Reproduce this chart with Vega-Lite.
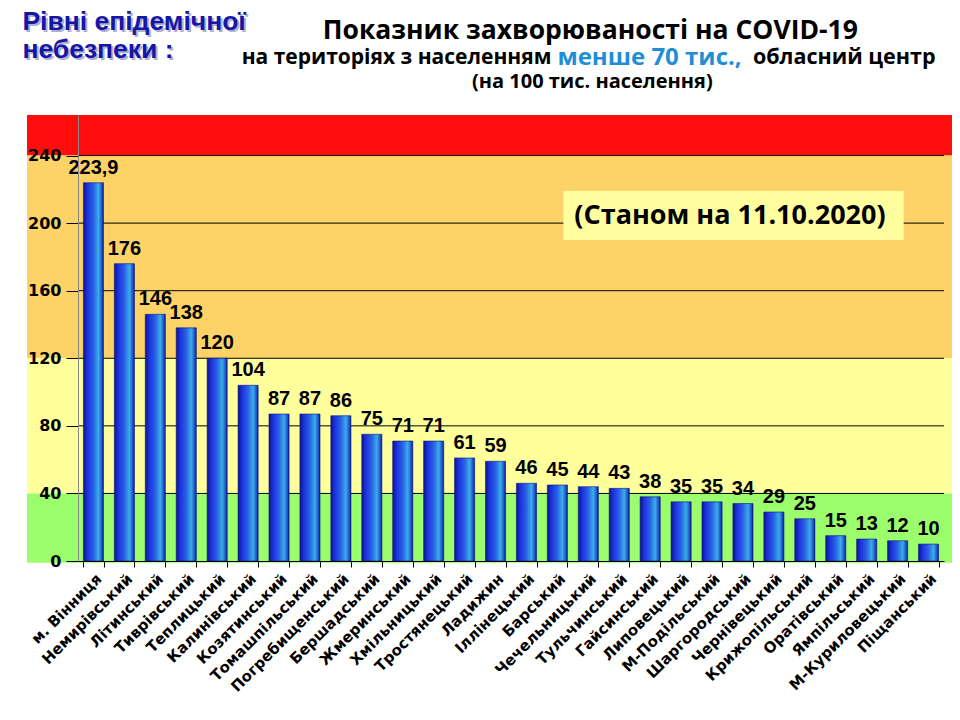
{
  "$schema": "https://vega.github.io/schema/vega-lite/v6.json",
  "width": 925,
  "height": 446,
  "autosize": {"type": "none"},
  "padding": {"left": 27, "top": 115, "right": 8, "bottom": 159},
  "background": "white",
  "config": {
    "view": {"stroke": null},
    "locale": {"number": {"decimal": ",", "thousands": " ", "grouping": [3], "currency": ["", ""]}}
  },
  "datasets": {
    "rates": [
      {"district": "м. Вінниця", "value": 223.9},
      {"district": "Немирівський", "value": 176},
      {"district": "Літинський", "value": 146},
      {"district": "Тиврівський", "value": 138},
      {"district": "Теплицький", "value": 120},
      {"district": "Калинівський", "value": 104},
      {"district": "Козятинський", "value": 87},
      {"district": "Томашпільський", "value": 87},
      {"district": "Погребищенський", "value": 86},
      {"district": "Бершадський", "value": 75},
      {"district": "Жмеринський", "value": 71},
      {"district": "Хмільницький", "value": 71},
      {"district": "Тростянецький", "value": 61},
      {"district": "Ладижин", "value": 59},
      {"district": "Іллінецький", "value": 46},
      {"district": "Барський", "value": 45},
      {"district": "Чечельницький", "value": 44},
      {"district": "Тульчинський", "value": 43},
      {"district": "Гайсинський", "value": 38},
      {"district": "Липовецький", "value": 35},
      {"district": "М-Подільський", "value": 35},
      {"district": "Шаргородський", "value": 34},
      {"district": "Чернівецький", "value": 29},
      {"district": "Крижопільський", "value": 25},
      {"district": "Оратівський", "value": 15},
      {"district": "Ямпільський", "value": 13},
      {"district": "М-Куриловецький", "value": 12},
      {"district": "Піщанський", "value": 10}
    ],
    "zones": [
      {"zone": "red", "lo": 240, "hi": 264},
      {"zone": "orange", "lo": 120, "hi": 240},
      {"zone": "yellow", "lo": 40, "hi": 120},
      {"zone": "green", "lo": -1, "hi": 40}
    ],
    "grid": [{"v": 40}, {"v": 80}, {"v": 120}, {"v": 160}, {"v": 200}, {"v": 240}]
  },
  "layer": [
    {
      "data": {"name": "zones"},
      "mark": {"type": "rect"},
      "encoding": {
        "y": {
          "field": "lo",
          "type": "quantitative",
          "scale": {"domain": [0, 264], "nice": false, "zero": true},
          "axis": {
            "title": null,
            "zindex": 1,
            "values": [0, 40, 80, 120, 160, 200, 240],
            "offset": -51,
            "grid": false,
            "domainColor": "#888888",
            "tickColor": "black",
            "tickSize": 12,
            "labelPadding": 5,
            "labelFont": "DejaVu Sans",
            "labelFontWeight": "bold",
            "labelFontSize": 16,
            "labelColor": "black"
          }
        },
        "y2": {"field": "hi"},
        "color": {
          "field": "zone",
          "type": "nominal",
          "scale": {"domain": ["red", "orange", "yellow", "green"], "range": ["#ff0d0d", "#fdd267", "#ffff9c", "#9cfd6c"]},
          "legend": null
        }
      }
    },
    {
      "data": {"name": "grid"},
      "mark": {"type": "rule", "color": "black", "strokeWidth": 1},
      "encoding": {
        "x": {
          "datum": "м. Вінниця",
          "type": "nominal",
          "bandPosition": -0.27,
          "scale": {
            "domain": ["м. Вінниця", "Немирівський", "Літинський", "Тиврівський", "Теплицький", "Калинівський", "Козятинський", "Томашпільський", "Погребищенський", "Бершадський", "Жмеринський", "Хмільницький", "Тростянецький", "Ладижин", "Іллінецький", "Барський", "Чечельницький", "Тульчинський", "Гайсинський", "Липовецький", "М-Подільський", "Шаргородський", "Чернівецький", "Крижопільський", "Оратівський", "Ямпільський", "М-Куриловецький", "Піщанський"],
            "range": [51, 917],
            "paddingInner": 0.35,
            "paddingOuter": 0.175
          },
          "axis": {
            "title": null,
            "zindex": 1,
            "labelAngle": -45,
            "labelFont": "DejaVu Sans",
            "labelFontWeight": "bold",
            "labelFontSize": 15,
            "labelColor": "black",
            "labelPadding": 4,
            "labelOverlap": false,
            "labelLimit": 300,
            "domainColor": "black",
            "tickColor": "black",
            "tickSize": 6,
            "tickBand": "extent"
          }
        },
        "x2": {"datum": "Піщанський", "bandPosition": 1.27},
        "y": {"field": "v", "type": "quantitative", "title": null}
      }
    },
    {
      "data": {"values": [{}]},
      "mark": {"type": "rect", "color": "#ffffa0"},
      "encoding": {
        "x": {"datum": "Барський", "type": "nominal", "bandPosition": 0.8},
        "x2": {"datum": "М-Куриловецький", "bandPosition": 0.8},
        "y": {"datum": 190, "type": "quantitative"},
        "y2": {"datum": 219}
      }
    },
    {
      "data": {"values": [{}]},
      "mark": {"type": "text", "font": "Open Sans", "fontWeight": "bold", "fontSize": 27, "color": "black", "align": "center", "baseline": "middle", "dx": -13},
      "encoding": {
        "x": {"datum": "Шаргородський", "type": "nominal"},
        "y": {"datum": 204.5, "type": "quantitative"},
        "text": {"value": "(Станом на 11.10.2020)"}
      }
    },
    {
      "data": {"values": [{}]},
      "mark": {"type": "text", "font": "Liberation Sans", "fontWeight": "bold", "fontSize": 26.5, "color": "#b0b0cc", "align": "left", "baseline": "middle", "dx": -59, "dy": 2},
      "encoding": {
        "x": {"datum": "м. Вінниця", "type": "nominal", "bandPosition": 0},
        "y": {"datum": 319, "type": "quantitative"},
        "text": {"value": "Рівні епідемічної"}
      }
    },
    {
      "data": {"values": [{}]},
      "mark": {"type": "text", "font": "Liberation Sans", "fontWeight": "bold", "fontSize": 26.5, "color": "#b0b0cc", "align": "left", "baseline": "middle", "dx": -59, "dy": 2},
      "encoding": {
        "x": {"datum": "м. Вінниця", "type": "nominal", "bandPosition": 0},
        "y": {"datum": 302.5, "type": "quantitative"},
        "text": {"value": "небезпеки :"}
      }
    },
    {
      "data": {"values": [{}]},
      "mark": {"type": "text", "font": "Liberation Sans", "fontWeight": "bold", "fontSize": 26.5, "color": "#1616a6", "align": "left", "baseline": "middle", "dx": -61},
      "encoding": {
        "x": {"datum": "м. Вінниця", "type": "nominal", "bandPosition": 0},
        "y": {"datum": 319, "type": "quantitative"},
        "text": {"value": "Рівні епідемічної"}
      }
    },
    {
      "data": {"values": [{}]},
      "mark": {"type": "text", "font": "Liberation Sans", "fontWeight": "bold", "fontSize": 26.5, "color": "#1616a6", "align": "left", "baseline": "middle", "dx": -61},
      "encoding": {
        "x": {"datum": "м. Вінниця", "type": "nominal", "bandPosition": 0},
        "y": {"datum": 302.5, "type": "quantitative"},
        "text": {"value": "небезпеки :"}
      }
    },
    {
      "data": {"values": [{}]},
      "mark": {"type": "text", "font": "Open Sans", "fontWeight": "bold", "fontSize": 26.5, "color": "black", "align": "center", "baseline": "middle", "dx": 2},
      "encoding": {
        "x": {"datum": "Чечельницький", "type": "nominal"},
        "y": {"datum": 314, "type": "quantitative"},
        "text": {"value": "Показник захворюваності на COVID-19"}
      }
    },
    {
      "data": {"values": [{}]},
      "mark": {"type": "text", "font": "Open Sans", "fontWeight": "bold", "fontSize": 21, "color": "black", "align": "right", "baseline": "middle", "dx": -6},
      "encoding": {
        "x": {"datum": "Барський", "type": "nominal"},
        "y": {"datum": 298, "type": "quantitative"},
        "text": {"value": "на територіях з населенням"}
      }
    },
    {
      "data": {"values": [{}]},
      "mark": {"type": "text", "font": "Open Sans", "fontWeight": "bold", "fontSize": 24, "color": "#1f8ed6", "align": "left", "baseline": "middle", "dx": 0},
      "encoding": {
        "x": {"datum": "Барський", "type": "nominal"},
        "y": {"datum": 298, "type": "quantitative"},
        "text": {"value": "менше 70 тис.,"}
      }
    },
    {
      "data": {"values": [{}]},
      "mark": {"type": "text", "font": "Open Sans", "fontWeight": "bold", "fontSize": 21.5, "color": "black", "align": "right", "baseline": "middle", "dx": 7},
      "encoding": {
        "x": {"datum": "Піщанський", "type": "nominal"},
        "y": {"datum": 298, "type": "quantitative"},
        "text": {"value": "обласний центр"}
      }
    },
    {
      "data": {"values": [{}]},
      "mark": {"type": "text", "font": "Open Sans", "fontWeight": "bold", "fontSize": 20, "color": "black", "align": "center", "baseline": "middle", "dx": 4},
      "encoding": {
        "x": {"datum": "Чечельницький", "type": "nominal"},
        "y": {"datum": 283.5, "type": "quantitative"},
        "text": {"value": "(на 100  тис. населення)"}
      }
    },
    {
      "data": {"name": "rates"},
      "encoding": {
        "x": {"field": "district", "type": "nominal", "title": null},
        "y": {"field": "value", "type": "quantitative", "title": null}
      },
      "layer": [
        {
          "mark": {
            "type": "bar",
            "stroke": "#0b1680",
            "strokeWidth": 0.6,
            "color": {
              "gradient": "linear",
              "x1": 0, "y1": 0, "x2": 1, "y2": 0,
              "stops": [
                {"offset": 0, "color": "#0a1488"},
                {"offset": 0.18, "color": "#1b2fdc"},
                {"offset": 0.5, "color": "#2a62e6"},
                {"offset": 0.75, "color": "#39aee6"},
                {"offset": 0.92, "color": "#1e4fd0"},
                {"offset": 1, "color": "#0a1488"}
              ]
            }
          }
        },
        {
          "mark": {"type": "text", "font": "Liberation Sans", "fontWeight": "bold", "fontSize": 20, "color": "black", "baseline": "bottom", "dy": -5},
          "encoding": {
            "text": {"field": "value", "type": "quantitative", "format": "~f"}
          }
        }
      ]
    }
  ]
}
